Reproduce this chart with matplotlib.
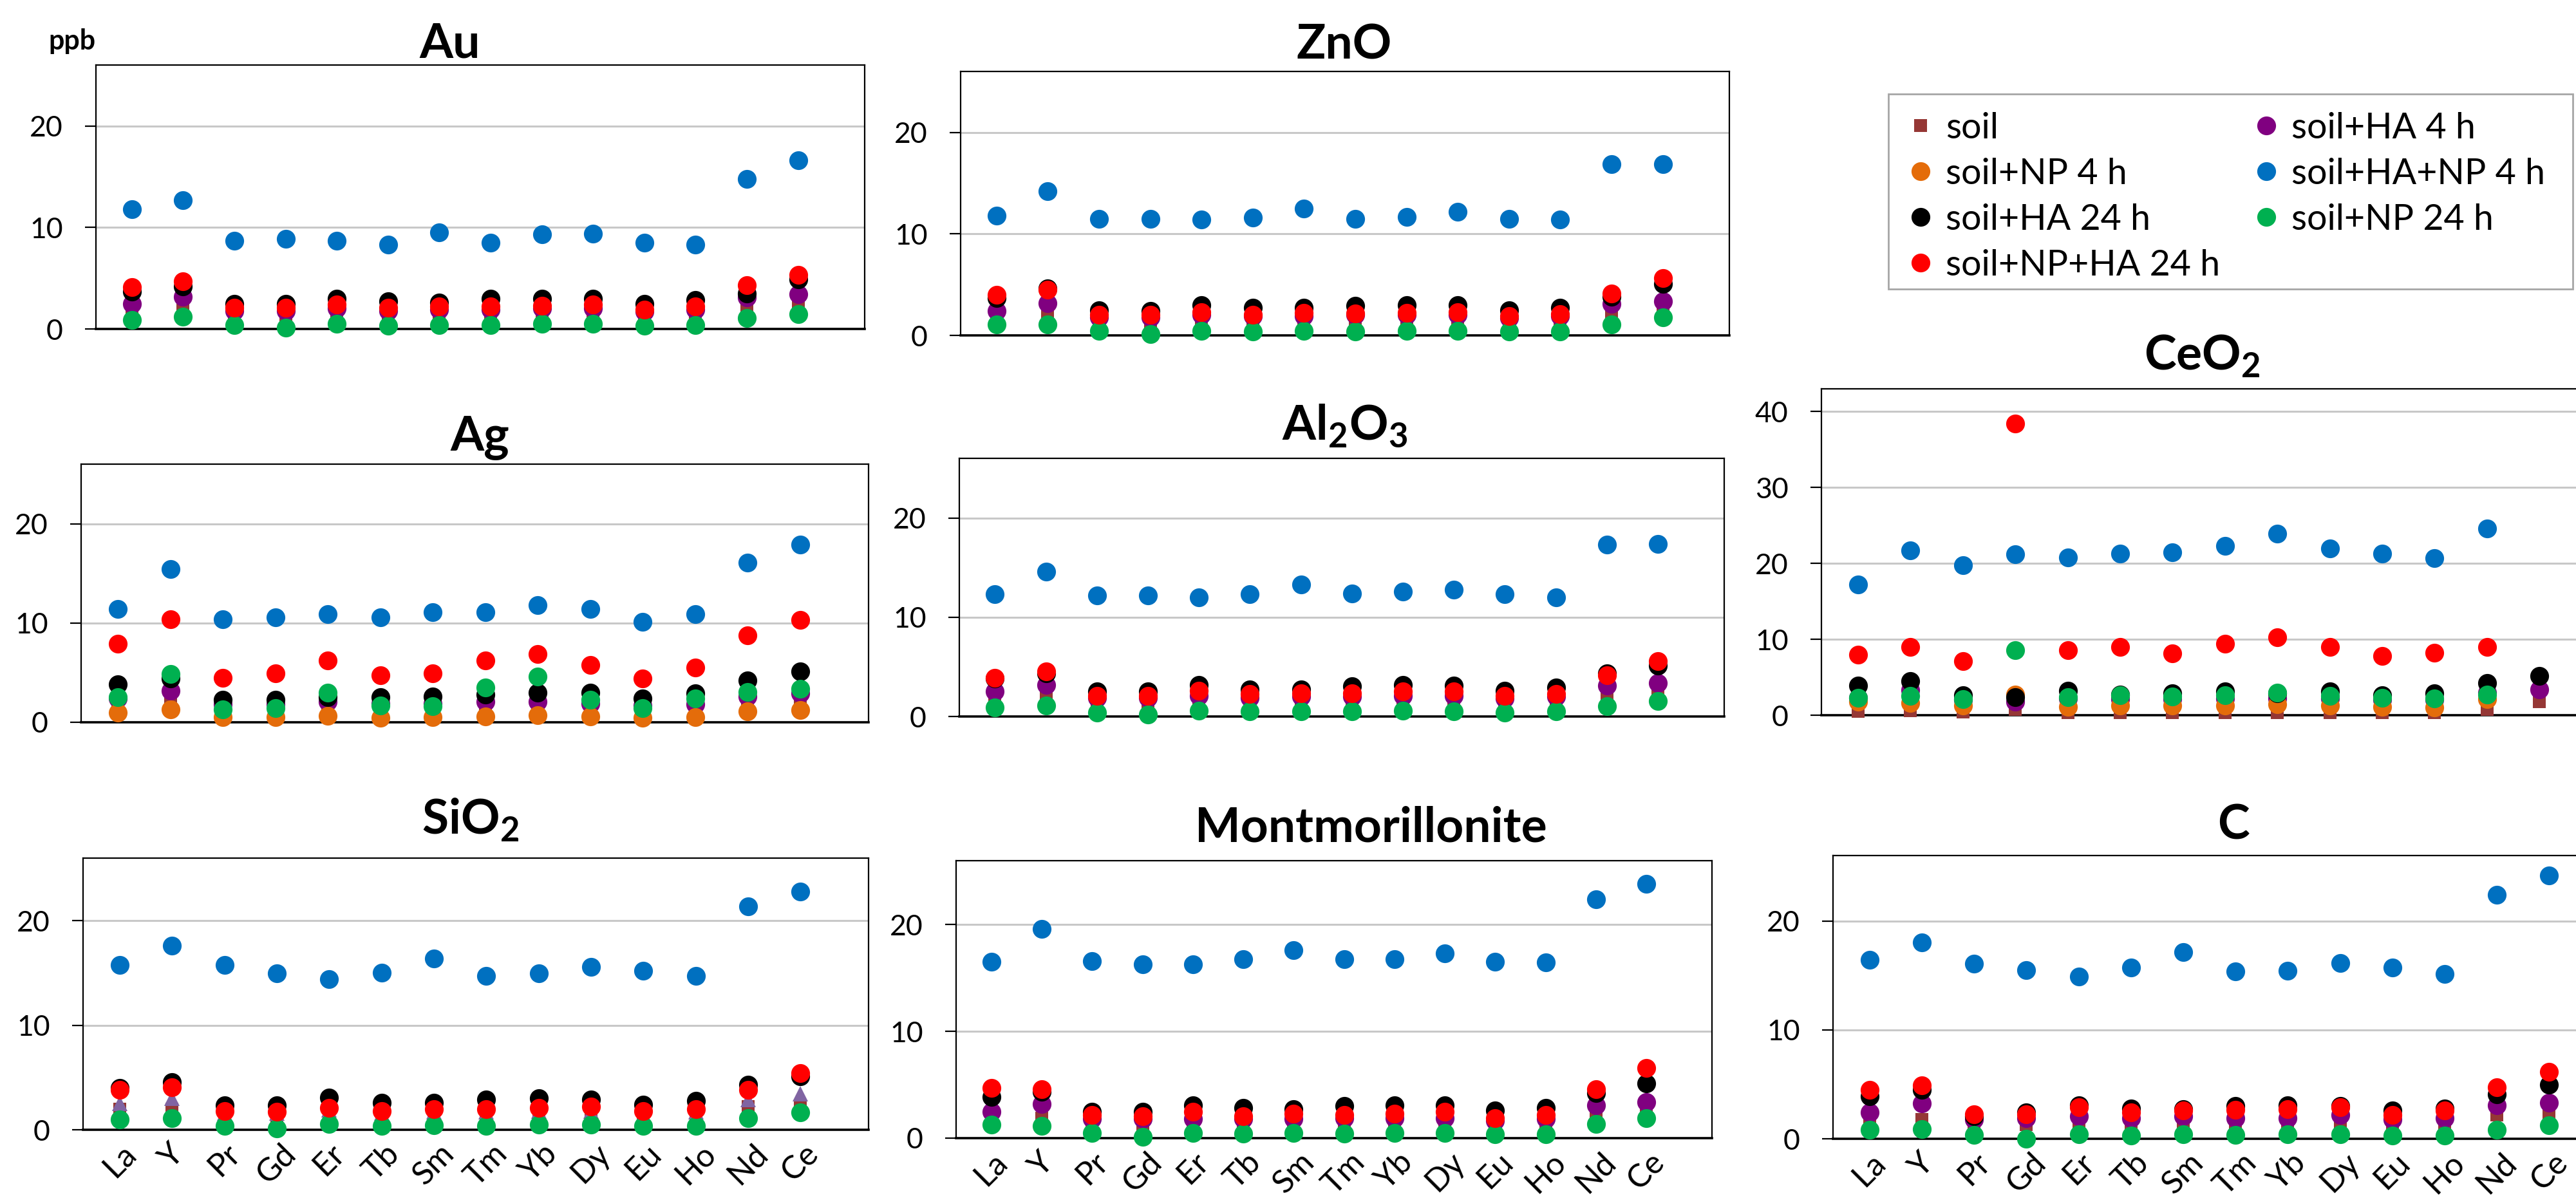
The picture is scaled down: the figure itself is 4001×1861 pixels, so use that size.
import numpy as np
import matplotlib
matplotlib.use("Agg")
import matplotlib.pyplot as plt
from matplotlib.patches import Rectangle

plt.rcParams['font.family'] = 'Lato'
plt.rcParams['mathtext.fontset'] = 'custom'
plt.rcParams['mathtext.rm'] = 'Lato'
plt.rcParams['mathtext.bf'] = 'Lato:bold'

nan = np.nan
elements = ["La", "Y", "Pr", "Gd", "Er", "Tb", "Sm", "Tm", "Yb", "Dy", "Eu", "Ho", "Nd", "Ce"]

# series: label, colour, marker, size (drawn in this order)
series_labels = ["soil", "soil+HA 4 h", "soil+NP 4 h", "soil+HA+NP 4 h",
                 "soil+HA 24 h", "soil+NP 24 h", "soil+NP+HA 24 h"]
series_colors = ["#953735", "#800080", "#E46C0A", "#0070C0", "#000000", "#00B050", "#FF0000"]
series_markers = ["s", "o", "o", "o", "o", "o", "o"]
series_sizes = [14, 21, 21, 21, 21, 21, 21]

# ---- values (ppb), one dict per panel ----
au = {
    "soil": [1.6, 2.0, 1.2, 1.1, 1.4, 1.2, 1.3, 1.3, 1.4, 1.4, 1.1, 1.3, 2.0, 2.3],
    "soil+HA 4 h": [2.5, 3.2, 1.8, 1.8, 2.0, 1.8, 1.9, 1.9, 2.0, 2.0, 1.7, 1.9, 3.1, 3.4],
    "soil+HA+NP 4 h": [11.8, 12.7, 8.7, 8.9, 8.7, 8.3, 9.5, 8.5, 9.3, 9.4, 8.5, 8.3, 14.8, 16.6],
    "soil+HA 24 h": [3.7, 4.2, 2.5, 2.5, 3.0, 2.7, 2.6, 3.0, 3.0, 3.0, 2.5, 2.85, 3.5, 4.9],
    "soil+NP 24 h": [0.9, 1.2, 0.4, 0.15, 0.5, 0.3, 0.4, 0.4, 0.5, 0.5, 0.3, 0.4, 1.1, 1.45],
    "soil+NP+HA 24 h": [4.1, 4.7, 2.1, 2.1, 2.4, 2.1, 2.2, 2.2, 2.3, 2.4, 1.9, 2.2, 4.3, 5.3],
}
zno = {
    "soil": [1.6, 2.0, 1.2, 1.1, 1.4, 1.2, 1.3, 1.3, 1.4, 1.4, 1.1, 1.3, 2.0, 2.3],
    "soil+HA 4 h": [2.4, 3.2, 1.8, 1.8, 2.0, 1.9, 1.9, 2.0, 2.0, 2.0, 1.7, 1.9, 3.1, 3.35],
    "soil+HA+NP 4 h": [11.8, 14.2, 11.5, 11.5, 11.4, 11.6, 12.5, 11.5, 11.7, 12.2, 11.5, 11.4, 16.9, 16.9],
    "soil+HA 24 h": [3.7, 4.6, 2.5, 2.4, 3.0, 2.7, 2.75, 2.9, 3.0, 2.95, 2.5, 2.75, 3.8, 5.1],
    "soil+NP 24 h": [1.1, 1.1, 0.45, 0.1, 0.45, 0.35, 0.45, 0.35, 0.45, 0.45, 0.35, 0.35, 1.1, 1.75],
    "soil+NP+HA 24 h": [4.0, 4.5, 2.0, 2.0, 2.3, 2.0, 2.2, 2.15, 2.2, 2.3, 1.9, 2.1, 4.1, 5.65],
}
ag = {
    "soil": [1.5, 1.9, 1.1, 1.0, 1.3, 1.1, 1.2, 1.2, 1.3, 1.3, 1.0, 1.2, 2.0, 2.3],
    "soil+HA 4 h": [2.4, 3.2, 1.8, 1.8, 2.1, 1.9, 1.9, 2.05, 2.1, 1.9, 1.7, 1.8, 2.6, 2.9],
    "soil+NP 4 h": [1.0, 1.3, 0.5, 0.55, 0.65, 0.45, 0.5, 0.6, 0.7, 0.6, 0.45, 0.5, 1.1, 1.25],
    "soil+HA+NP 4 h": [11.4, 15.4, 10.4, 10.6, 10.9, 10.6, 11.1, 11.1, 11.8, 11.4, 10.1, 10.9, 16.1, 17.9],
    "soil+HA 24 h": [3.85, 4.4, 2.3, 2.3, 2.5, 2.55, 2.6, 2.8, 3.0, 3.0, 2.4, 2.9, 4.2, 5.1],
    "soil+NP 24 h": [2.55, 4.85, 1.3, 1.45, 3.0, 1.7, 1.6, 3.5, 4.6, 2.25, 1.4, 2.4, 3.05, 3.4],
    "soil+NP+HA 24 h": [7.9, 10.4, 4.5, 4.9, 6.25, 4.75, 4.95, 6.2, 6.9, 5.8, 4.4, 5.5, 8.75, 10.3],
}
al2o3 = {
    "soil": [1.6, 2.0, 1.2, 1.1, 1.4, 1.2, 1.3, 1.3, 1.4, 1.4, 1.1, 1.3, 2.1, 2.3],
    "soil+HA 4 h": [2.5, 3.2, 1.9, 1.9, 2.1, 1.9, 2.0, 2.0, 2.1, 2.1, 1.8, 2.0, 3.1, 3.35],
    "soil+HA+NP 4 h": [12.3, 14.6, 12.2, 12.2, 12.0, 12.3, 13.3, 12.4, 12.6, 12.8, 12.3, 12.0, 17.3, 17.35],
    "soil+HA 24 h": [3.8, 4.35, 2.5, 2.5, 3.15, 2.7, 2.7, 3.05, 3.15, 3.1, 2.6, 2.9, 4.35, 5.1],
    "soil+NP 24 h": [0.9, 1.1, 0.4, 0.2, 0.6, 0.5, 0.55, 0.55, 0.6, 0.55, 0.4, 0.55, 1.05, 1.55],
    "soil+NP+HA 24 h": [3.9, 4.55, 2.1, 2.1, 2.6, 2.25, 2.35, 2.35, 2.5, 2.5, 2.05, 2.25, 4.15, 5.6],
}
ceo2 = {
    "soil": [0.5, 0.6, 0.4, 0.8, 0.3, 0.3, 0.3, 0.3, 0.3, 0.3, 0.3, 0.3, 0.8, 1.8],
    "soil+HA 4 h": [2.3, 3.3, 2.0, 1.8, 2.2, 2.1, 2.1, 2.2, 2.2, 2.2, 2.0, 2.0, 3.0, 3.4],
    "soil+NP 4 h": [1.8, 1.6, 1.3, 2.7, 1.1, 1.3, 1.3, 1.3, 1.45, 1.3, 1.1, 1.05, 2.1, nan],
    "soil+HA+NP 4 h": [17.2, 21.7, 19.8, 21.2, 20.8, 21.3, 21.5, 22.3, 23.9, 22.0, 21.3, 20.7, 24.6, nan],
    "soil+HA 24 h": [3.9, 4.5, 2.6, 2.35, 3.25, 2.75, 2.85, 3.1, 2.9, 3.1, 2.6, 2.9, 4.2, 5.15],
    "soil+NP 24 h": [2.3, 2.55, 2.1, 8.6, 2.4, 2.6, 2.5, 2.6, 3.0, 2.55, 2.3, 2.2, 2.7, nan],
    "soil+NP+HA 24 h": [8.0, 9.0, 7.15, 38.45, 8.6, 9.0, 8.1, 9.4, 10.3, 9.0, 7.8, 8.2, 8.95, nan],
}
sio2 = {
    "soil": [2.0, 2.0, 1.2, 1.1, 1.4, 1.2, 1.3, 1.3, 1.4, 1.4, 1.1, 1.3, 2.2, 2.35],
    "soil+HA 4 h": [2.5, 3.0, 1.6, 1.6, 1.9, 1.6, 1.7, 1.7, 1.8, 1.8, 1.5, 1.7, 2.9, 3.45],
    "soil+HA+NP 4 h": [15.8, 17.6, 15.8, 14.95, 14.4, 15.05, 16.4, 14.75, 15.0, 15.6, 15.2, 14.7, 21.4, 22.8],
    "soil+HA 24 h": [4.0, 4.55, 2.35, 2.35, 3.05, 2.6, 2.6, 2.9, 3.0, 2.9, 2.4, 2.8, 4.3, 5.1],
    "soil+NP 24 h": [1.0, 1.1, 0.4, 0.15, 0.55, 0.35, 0.45, 0.4, 0.5, 0.5, 0.35, 0.4, 1.1, 1.65],
    "soil+NP+HA 24 h": [3.85, 4.05, 1.8, 1.7, 2.1, 1.8, 2.0, 2.0, 2.1, 2.2, 1.8, 1.95, 3.85, 5.4],
}
mont = {
    "soil": [1.6, 1.9, 1.2, 1.1, 1.4, 1.2, 1.3, 1.3, 1.4, 1.4, 1.1, 1.3, 2.1, 2.3],
    "soil+HA 4 h": [2.45, 3.2, 1.8, 1.8, 1.8, 1.8, 1.8, 1.9, 1.9, 1.9, 1.6, 1.8, 3.1, 3.35],
    "soil+HA+NP 4 h": [16.55, 19.6, 16.6, 16.3, 16.3, 16.8, 17.6, 16.8, 16.8, 17.3, 16.5, 16.45, 22.4, 23.8],
    "soil+HA 24 h": [3.85, 4.35, 2.45, 2.45, 3.1, 2.85, 2.7, 3.0, 3.05, 3.05, 2.6, 2.85, 4.2, 5.1],
    "soil+NP 24 h": [1.25, 1.15, 0.5, 0.15, 0.5, 0.4, 0.5, 0.45, 0.5, 0.5, 0.35, 0.35, 1.3, 1.9],
    "soil+NP+HA 24 h": [4.7, 4.6, 2.2, 2.05, 2.5, 2.05, 2.3, 2.2, 2.3, 2.5, 1.9, 2.2, 4.6, 6.55],
}
carbon = {
    "soil": [1.5, 1.8, 1.3, 1.3, 1.4, 1.3, 1.4, 1.3, 1.4, 1.4, 1.2, 1.3, 2.2, 2.3],
    "soil+HA 4 h": [2.45, 3.25, 1.8, 1.9, 2.05, 1.9, 2.05, 1.9, 1.9, 2.2, 1.8, 1.9, 3.1, 3.3],
    "soil+HA+NP 4 h": [16.4, 18.05, 16.1, 15.5, 14.9, 15.7, 17.15, 15.35, 15.45, 16.15, 15.7, 15.1, 22.4, 24.15],
    "soil+HA 24 h": [3.9, 4.5, 2.05, 2.45, 3.1, 2.75, 2.7, 3.0, 3.05, 3.0, 2.6, 2.75, 4.1, 4.95],
    "soil+NP 24 h": [0.85, 0.9, 0.35, 0.0, 0.4, 0.3, 0.4, 0.35, 0.4, 0.4, 0.3, 0.3, 0.85, 1.25],
    "soil+NP+HA 24 h": [4.5, 4.9, 2.25, 2.25, 2.9, 2.4, 2.6, 2.65, 2.7, 2.9, 2.2, 2.6, 4.75, 6.15],
}

W, H = 4001, 1861
fig = plt.figure(figsize=(W / 100, H / 100), dpi=100)

# panel: data, title, (left, top, right, bottom) in pixels, ymax, yticks, title centre x, title baseline y, bottom row
panels = [
    (au, "Au", (149, 101, 1343, 511), 26, [0, 10, 20], 699, 89, False),
    (zno, "ZnO", (1492, 111, 2686, 521), 26, [0, 10, 20], 2088, 91, False),
    (ag, "Ag", (126, 721, 1349, 1122), 26, [0, 10, 20], 745, 700, False),
    (al2o3, r"Al$_\mathbf{2}$O$_\mathbf{3}$", (1490, 712, 2678, 1113), 26, [0, 10, 20], 2089, 683, False),
    (ceo2, r"CeO$_\mathbf{2}$", (2829, 604, 4050, 1111), 43, [0, 10, 20, 30, 40], 3420, 575, False),
    (sio2, r"SiO$_\mathbf{2}$", (129, 1333, 1349, 1755), 26, [0, 10, 20], 731, 1296, True),
    (mont, "Montmorillonite", (1485, 1337, 2659, 1768), 26, [0, 10, 20], 2129, 1307, True),
    (carbon, "C", (2847, 1329, 4065, 1769), 26, [0, 10, 20], 3469, 1303, True),
]

x = np.arange(1, len(elements) + 1)
handles = {}
for data, title, (l, t, r, b), ymax, yt, tx, ty, bottom_row in panels:
    ax = fig.add_axes([l / W, 1 - b / H, (r - l) / W, (b - t) / H])
    for i, lab in enumerate(series_labels):
        if lab not in data:
            continue
        marker = series_markers[i]
        color = series_colors[i]
        size = series_sizes[i]
        if data is sio2 and lab == "soil+HA 4 h":
            marker, color, size = "^", "#8064A2", 17
        ln, = ax.plot(x, data[lab], linestyle="none", marker=marker, ms=size,
                      mew=0, color=color, zorder=3 + i, clip_on=False)
        if lab not in handles and marker != "^":
            handles[lab] = ln
    ax.set_xlim(0.3, 15.3)
    ax.set_ylim(0, ymax)
    ax.set_yticks(yt)
    ax.yaxis.grid(True, color="#C8C8C8", linewidth=2.2)
    ax.set_axisbelow(True)
    for s in ["top", "right", "left"]:
        ax.spines[s].set_linewidth(1.6)
    ax.spines["bottom"].set_linewidth(2.6)
    ax.tick_params(axis="y", length=12, width=1.6, pad=25, labelsize=32, direction="out")
    ax.set_xticks(x)
    if bottom_row:
        ax.set_xticklabels(elements, rotation=45, ha="center", va="top", fontsize=36)
        ax.tick_params(axis="x", length=0, pad=10)
    else:
        ax.set_xticklabels([])
        ax.tick_params(axis="x", length=0)
    fig.text(tx / W, 1 - ty / H, title, ha="center", va="baseline",
             fontsize=54, fontweight="bold")

fig.text(112 / W, 1 - 77 / H, "ppb", ha="center", va="baseline", fontsize=31, fontweight="bold")

# legend frame drawn as a plain rectangle so it matches the reference box
fig.patches.append(Rectangle((2933 / W, 1 - 449 / H), 1063 / W, 303 / H,
                             transform=fig.transFigure, facecolor="white",
                             edgecolor="#A6A6A6", linewidth=2, zorder=0))

order = ["soil", "soil+NP 4 h", "soil+HA 24 h", "soil+NP+HA 24 h",
         "soil+HA 4 h", "soil+HA+NP 4 h", "soil+NP 24 h"]
leg = fig.legend([handles[k] for k in order], order, ncol=2, loc="upper left",
                 bbox_to_anchor=(2933 / W, 1 - 146 / H), fontsize=40, frameon=False,
                 borderpad=0.5, labelspacing=0.36, handletextpad=0.3, handlelength=0.8,
                 columnspacing=0.9, borderaxespad=0)

fig.savefig("out.png", dpi=100, facecolor="white")
